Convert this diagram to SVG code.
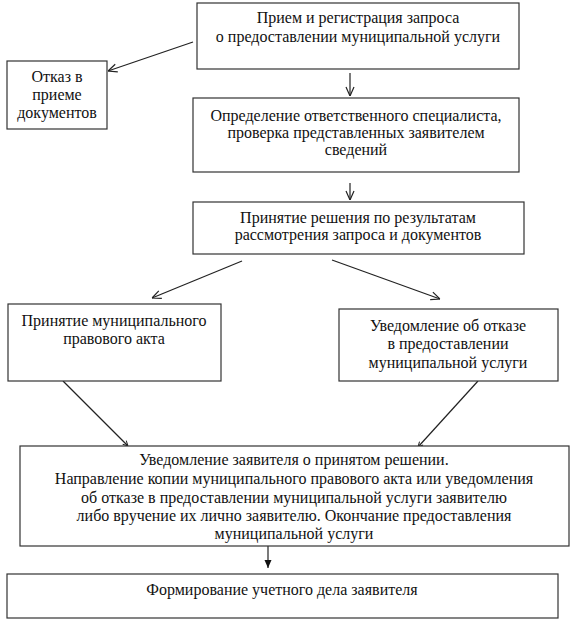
<svg xmlns="http://www.w3.org/2000/svg" width="579" height="630" viewBox="0 0 579 630">
<defs>
<style>
.box{fill:#fff;stroke:#333;stroke-width:1.2}
.t{font-family:"Liberation Serif","Times New Roman",serif;font-size:16px;fill:#111;text-anchor:middle}
.c{fill:none;stroke:#222;stroke-width:1.2}
</style>
<marker id="open" viewBox="0 0 10 10" refX="10" refY="5" markerWidth="10" markerHeight="10" markerUnits="userSpaceOnUse" orient="auto">
<path d="M1,1 L10,5 L1,9" fill="none" stroke="#222" stroke-width="1.2"/>
</marker>
<marker id="small" viewBox="0 0 6 6" refX="6" refY="3" markerWidth="6" markerHeight="6" markerUnits="userSpaceOnUse" orient="auto">
<path d="M1,0.5 L6,3 L1,5.5" fill="none" stroke="#222" stroke-width="1"/>
</marker>
<marker id="filled" viewBox="0 0 8 8" refX="8" refY="4" markerWidth="8" markerHeight="8" markerUnits="userSpaceOnUse" orient="auto">
<path d="M0,0.5 L8,4 L0,7.5 Z" fill="#111"/>
</marker>
</defs>
<rect width="579" height="630" fill="#fff"/>
<g id="connectors">
<line class="c" x1="193" y1="42" x2="108" y2="71" marker-end="url(#open)"/>
<line class="c" x1="350" y1="73" x2="350" y2="96" marker-end="url(#open)"/>
<line class="c" x1="350" y1="183" x2="350" y2="200" marker-end="url(#open)"/>
<line class="c" x1="242" y1="261" x2="152" y2="298" marker-end="url(#open)"/>
<line class="c" x1="332" y1="260" x2="440" y2="299" marker-end="url(#open)"/>
<line class="c" x1="63" y1="381" x2="128" y2="446" marker-end="url(#small)"/>
<line class="c" x1="478" y1="381" x2="418" y2="447" marker-end="url(#small)"/>
<line class="c" x1="268" y1="546" x2="268" y2="568" marker-end="url(#filled)"/>
</g>
<g id="n1">
<rect class="box" x="197" y="3" width="322" height="66"/>
<text class="t" x="358" y="23">Прием и регистрация запроса</text>
<text class="t" x="358" y="42">о предоставлении муниципальной услуги</text>
</g>
<g id="n_refuse">
<rect class="box" x="7" y="61" width="100" height="68"/>
<text class="t" x="57" y="82">Отказ в</text>
<text class="t" x="57" y="100">приеме</text>
<text class="t" x="57" y="118">документов</text>
</g>
<g id="n2">
<rect class="box" x="193" y="98" width="326" height="74"/>
<text class="t" x="356" y="121">Определение ответственного специалиста,</text>
<text class="t" x="356" y="138">проверка представленных заявителем</text>
<text class="t" x="356" y="155">сведений</text>
</g>
<g id="n3">
<rect class="box" x="193" y="202" width="331" height="52"/>
<text class="t" x="358" y="223">Принятие решения по результатам</text>
<text class="t" x="358" y="240">рассмотрения запроса и документов</text>
</g>
<g id="n4">
<rect class="box" x="8" y="304" width="213" height="77"/>
<text class="t" x="114" y="326">Принятие муниципального</text>
<text class="t" x="114" y="344">правового акта</text>
</g>
<g id="n5">
<rect class="box" x="339" y="309" width="219" height="72"/>
<text class="t" x="448" y="331">Уведомление об отказе</text>
<text class="t" x="448" y="349">в предоставлении</text>
<text class="t" x="448" y="368">муниципальной услуги</text>
</g>
<g id="n6">
<rect class="box" x="20" y="446" width="549" height="100"/>
<text class="t" x="294" y="465">Уведомление заявителя о принятом решении.</text>
<text class="t" x="294" y="484">Направление копии муниципального правового акта или уведомления</text>
<text class="t" x="294" y="503">об отказе в предоставлении муниципальной услуги заявителю</text>
<text class="t" x="294" y="521">либо вручение их лично заявителю. Окончание предоставления</text>
<text class="t" x="294" y="539">муниципальной услуги</text>
</g>
<g id="n7">
<rect class="box" x="7" y="574" width="551" height="44"/>
<text class="t" x="282" y="595">Формирование учетного дела заявителя</text>
</g>
</svg>
